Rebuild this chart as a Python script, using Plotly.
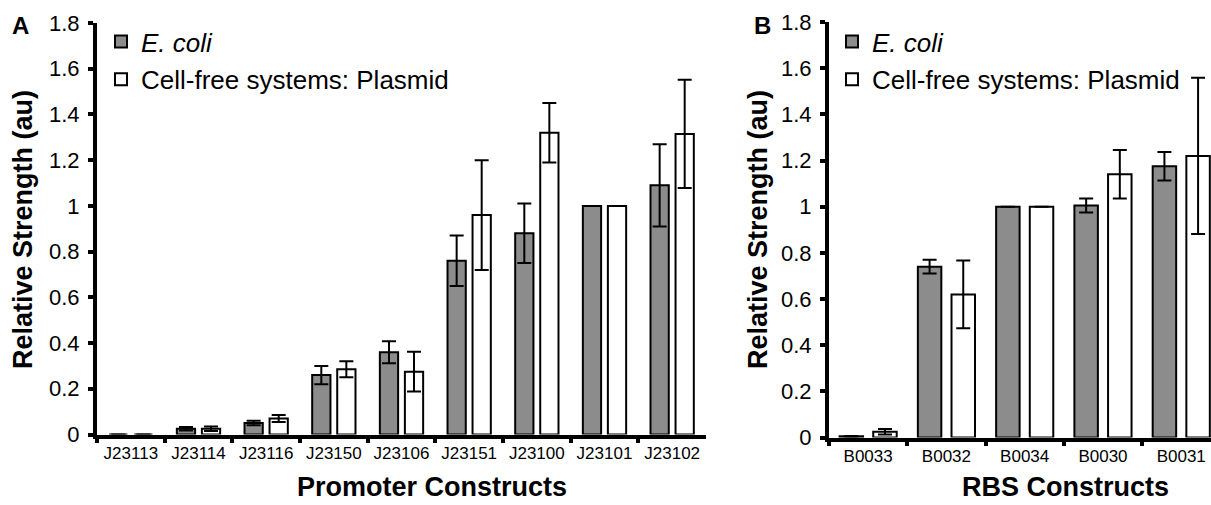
import plotly.graph_objects as go

# ---------------- data ----------------
promoters = ["J23113", "J23114", "J23116", "J23150", "J23106", "J23151", "J23100", "J23101", "J23102"]
prom_ecoli = [0.0, 0.025, 0.05, 0.26, 0.36, 0.76, 0.88, 1.0, 1.09]
prom_ecoli_err = [0.0, 0.008, 0.01, 0.04, 0.048, 0.11, 0.13, 0.0, 0.18]
prom_cf = [0.0, 0.025, 0.07, 0.285, 0.275, 0.96, 1.32, 1.0, 1.315]
prom_cf_err = [0.0, 0.01, 0.015, 0.035, 0.087, 0.24, 0.13, 0.0, 0.237]

rbs = ["B0033", "B0032", "B0034", "B0030", "B0031"]
rbs_ecoli = [0.005, 0.74, 1.0, 1.005, 1.175]
rbs_ecoli_err = [0.002, 0.03, 0.0, 0.03, 0.062]
rbs_cf = [0.025, 0.62, 1.0, 1.14, 1.22]
rbs_cf_err = [0.012, 0.147, 0.0, 0.105, 0.338]

series_names = ["<i>E. coli</i>", "Cell-free systems: Plasmid"]
y_tick_vals = [0, 0.2, 0.4, 0.6, 0.8, 1.0, 1.2, 1.4, 1.6, 1.8]
y_tick_text = ["0", "0.2", "0.4", "0.6", "0.8", "1", "1.2", "1.4", "1.6", "1.8"]

# ---------------- style ----------------
W, H = 1211, 505
GREY = "#8c8c8c"
FONT = "Arial, Liberation Sans, Helvetica, sans-serif"


def px_x(p):
    return p / W


def px_y(p):
    return 1 - p / H


fig = go.Figure()

err_style = dict(type="data", color="black", thickness=2, width=7, visible=True)

# Panel A
fig.add_trace(go.Bar(
    x=promoters, y=prom_ecoli, name=series_names[0], legend="legend", legendgroup="a1",
    marker=dict(color=GREY, line=dict(color="black", width=2)),
    offset=-0.32, width=0.27, xaxis="x", yaxis="y",
    error_y=dict(array=prom_ecoli_err, **err_style)))
fig.add_trace(go.Bar(
    x=promoters, y=prom_cf, name=series_names[1], legend="legend", legendgroup="a2",
    marker=dict(color="white", line=dict(color="black", width=2)),
    offset=0.05, width=0.27, xaxis="x", yaxis="y",
    error_y=dict(array=prom_cf_err, **err_style)))

# Panel B
fig.add_trace(go.Bar(
    x=rbs, y=rbs_ecoli, name=series_names[0], legend="legend2", legendgroup="b1",
    marker=dict(color=GREY, line=dict(color="black", width=2)),
    offset=-0.365, width=0.30, xaxis="x2", yaxis="y2",
    error_y=dict(array=rbs_ecoli_err, **err_style)))
fig.add_trace(go.Bar(
    x=rbs, y=rbs_cf, name=series_names[1], legend="legend2", legendgroup="b2",
    marker=dict(color="white", line=dict(color="black", width=2)),
    offset=0.065, width=0.30, xaxis="x2", yaxis="y2",
    error_y=dict(array=rbs_cf_err, **err_style)))

xaxis_common = dict(
    type="category", showline=True, linecolor="black", linewidth=4,
    ticks="outside", tickson="boundaries", ticklen=4, tickwidth=4, tickcolor="black",
    tickangle=0, automargin=False,
    showgrid=False, zeroline=False, tickfont=dict(family=FONT, size=17, color="black"),
)
yaxis_common = dict(
    range=[0, 1.8], tickvals=y_tick_vals, ticktext=y_tick_text,
    showline=True, linecolor="black", linewidth=4, automargin=False,
    ticks="outside", ticklen=5, tickwidth=4, tickcolor="black", ticklabelstandoff=4,
    showgrid=False, zeroline=False, tickfont=dict(family=FONT, size=22, color="black"),
)

legend_common = dict(
    font=dict(family=FONT, size=26, color="black"), bgcolor="rgba(0,0,0,0)",
    xanchor="left", yanchor="top", tracegroupgap=1, itemwidth=30,
)

fig.update_layout(
    width=W, height=H, barmode="overlay",
    margin=dict(l=0, r=0, t=0, b=0, pad=0, autoexpand=False),
    paper_bgcolor="white", plot_bgcolor="white",
    font=dict(family=FONT, color="black"),
    xaxis=dict(domain=[px_x(97), px_x(706)], range=[-0.5, 8.5], anchor="y", **xaxis_common),
    yaxis=dict(domain=[px_y(434.5), px_y(23)], anchor="x", **yaxis_common),
    xaxis2=dict(domain=[px_x(829), 1.0], range=[-0.5, 4.38], anchor="y2", **xaxis_common),
    yaxis2=dict(domain=[px_y(437.5), px_y(22)], anchor="x2", **yaxis_common),
    legend=dict(x=px_x(101), y=px_y(18), **legend_common),
    legend2=dict(x=px_x(832), y=px_y(18), **legend_common),
    showlegend=True,
)

title_font = dict(family=FONT, size=27, color="black")
annotations = [
    dict(text="<b>A</b>", x=px_x(21), y=px_y(25), font=dict(family=FONT, size=24, color="black")),
    dict(text="<b>B</b>", x=px_x(762), y=px_y(25), font=dict(family=FONT, size=24, color="black")),
    dict(text="<b>Promoter Constructs</b>", x=px_x(432), y=px_y(487), font=title_font),
    dict(text="<b>RBS Constructs</b>", x=px_x(1065), y=px_y(487), font=title_font),
    dict(text="<b>Relative Strength (au)</b>", x=px_x(23), y=px_y(230), textangle=-90, font=title_font),
    dict(text="<b>Relative Strength (au)</b>", x=px_x(758), y=px_y(230), textangle=-90, font=title_font),
]
for a in annotations:
    a.update(xref="paper", yref="paper", showarrow=False, xanchor="center", yanchor="middle")
fig.update_layout(annotations=annotations)

fig.write_html(
    "out.html",
    config={"displayModeBar": False},
    post_script="document.body.style.margin='0px';document.body.style.overflow='hidden';",
)
